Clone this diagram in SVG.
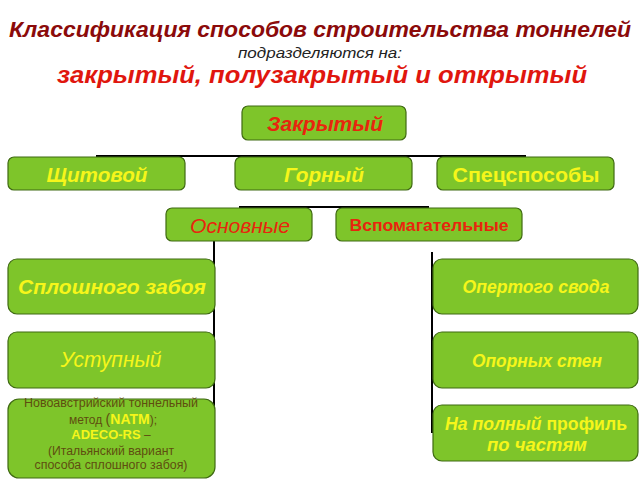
<svg xmlns="http://www.w3.org/2000/svg" width="640" height="480" viewBox="0 0 640 480">
<defs>
<style>
text{font-family:"Liberation Sans",Arial,sans-serif;text-anchor:middle}
.box{fill:#7EC52A;stroke:#3F6A12;stroke-width:1.2}
.y{fill:#F6F61A}
.r{fill:#E8250E}
.bi{font-weight:bold;font-style:italic}
.b{font-weight:bold}
.i{font-style:italic}
.ln{stroke:#000;stroke-width:2;fill:none}
.sm{fill:#5E4E10;font-size:12px}
</style>
</defs>
<rect width="640" height="480" fill="#fff"/>
<g id="title">
<text x="320" y="37" class="bi" fill="#8B0A0A" font-size="22" textLength="622" lengthAdjust="spacingAndGlyphs">Классификация способов строительства тоннелей</text>
<text x="320" y="58" class="i" fill="#222" font-size="14" textLength="164" lengthAdjust="spacingAndGlyphs">подразделяются на:</text>
<text x="322" y="83" class="bi" fill="#E0160E" font-size="24" textLength="530" lengthAdjust="spacingAndGlyphs">закрытый, полузакрытый и открытый</text>
</g>
<g id="connectors">
<path class="ln" d="M96 156H526"/>
<path class="ln" d="M239 207H429"/>
<path class="ln" d="M214 241V407"/>
<path class="ln" d="M432 252V433"/>
</g>
<g id="zakryty">
<rect class="box" x="242" y="106" width="164" height="34" rx="6"/>
<text x="325" y="131" class="r bi" font-size="21" textLength="116" lengthAdjust="spacingAndGlyphs">Закрытый</text>
</g>
<g id="shitovoy">
<rect class="box" x="8" y="157" width="177" height="33" rx="6"/>
<text x="97" y="182" class="y bi" font-size="21" textLength="101" lengthAdjust="spacingAndGlyphs">Щитовой</text>
</g>
<g id="gorny">
<rect class="box" x="235" y="157" width="177" height="33" rx="6"/>
<text x="324" y="182" class="y bi" font-size="21" textLength="80" lengthAdjust="spacingAndGlyphs">Горный</text>
</g>
<g id="spec">
<rect class="box" x="437" y="157" width="177" height="33" rx="6"/>
<text x="526" y="182" class="y b" font-size="21" textLength="147" lengthAdjust="spacingAndGlyphs">Спецспособы</text>
</g>
<g id="osnovnye">
<rect class="box" x="166" y="208" width="146" height="33" rx="6"/>
<text x="240" y="233" class="r i" font-size="21" textLength="100" lengthAdjust="spacingAndGlyphs">Основные</text>
</g>
<g id="vspom">
<rect class="box" x="336" y="208" width="186" height="33" rx="6"/>
<text x="429" y="231" class="r b" font-size="16" textLength="159" lengthAdjust="spacingAndGlyphs">Вспомагательные</text>
</g>
<g id="sploshnogo">
<rect class="box" x="8" y="259" width="207" height="55" rx="9"/>
<text x="112" y="294" class="y bi" font-size="21" textLength="188" lengthAdjust="spacingAndGlyphs">Сплошного забоя</text>
</g>
<g id="ustupny">
<rect class="box" x="8" y="332" width="207" height="56" rx="9"/>
<text x="111" y="367" class="y i" font-size="22" textLength="101" lengthAdjust="spacingAndGlyphs">Уступный</text>
</g>
<g id="natm">
<rect class="box" x="8" y="399" width="207" height="79" rx="11"/>
<text x="111" y="407" class="sm" textLength="174" lengthAdjust="spacingAndGlyphs">Новоавстрийский тоннельный</text>
<text x="113" y="424" class="sm">метод <tspan font-size="14">(</tspan><tspan class="y b" font-size="14">NATM</tspan>);</text>
<text x="111" y="439" class="sm"><tspan class="y b" font-size="13">ADECO-RS</tspan> –</text>
<text x="111" y="455" class="sm" textLength="126" lengthAdjust="spacingAndGlyphs">(Итальянский вариант</text>
<text x="111" y="469" class="sm" textLength="153" lengthAdjust="spacingAndGlyphs">способа сплошного забоя)</text>
</g>
<g id="opertogo">
<rect class="box" x="433" y="259" width="205" height="55" rx="9"/>
<text x="536" y="293" class="y bi" font-size="18" textLength="147" lengthAdjust="spacingAndGlyphs">Опертого свода</text>
</g>
<g id="opornyh">
<rect class="box" x="433" y="332" width="205" height="56" rx="9"/>
<text x="537" y="367" class="y bi" font-size="18" textLength="130" lengthAdjust="spacingAndGlyphs">Опорных стен</text>
</g>
<g id="polny">
<rect class="box" x="433" y="405" width="205" height="56" rx="9"/>
<text x="536" y="430" class="y bi" font-size="18" textLength="182" lengthAdjust="spacingAndGlyphs">На полный <tspan font-style="normal">профиль</tspan></text>
<text x="537" y="451" class="y bi" font-size="18" textLength="100" lengthAdjust="spacingAndGlyphs">по  частям</text>
</g>
</svg>
